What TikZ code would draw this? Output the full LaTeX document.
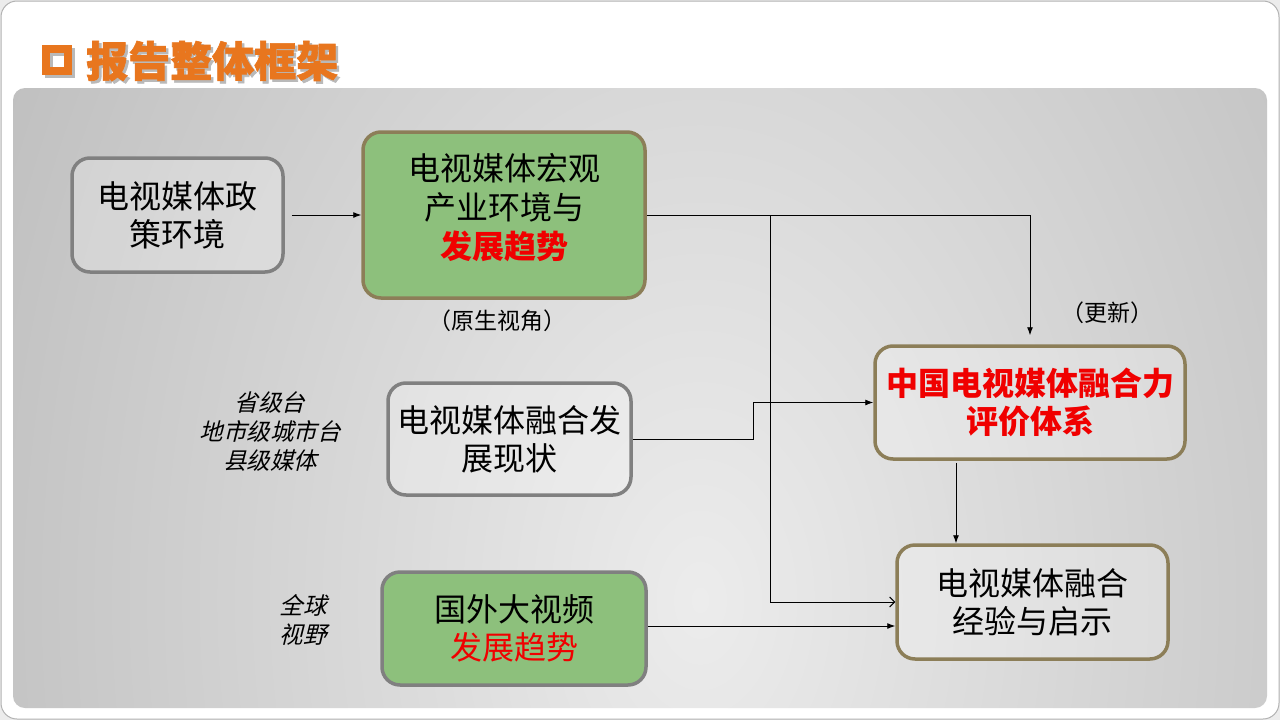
\documentclass[tikz,border=0pt]{standalone}
\usepackage{fontspec}
\setmainfont{Noto Sans CJK SC}
\newfontfamily\cjk{Noto Sans CJK SC}
\newfontfamily\cjkheavy[BoldFeatures={FakeBold=1.5}]{Noto Sans CJK SC}
\newfontfamily\cjkit[FakeSlant=0.25]{Noto Sans CJK SC}
\usetikzlibrary{arrows.meta,calc}
\definecolor{ttlorange}{RGB}{232,118,30}
\definecolor{boxgreen}{RGB}{141,192,124}
\definecolor{khaki}{RGB}{140,126,88}
\definecolor{bordgray}{RGB}{128,128,128}
\definecolor{txtred}{RGB}{240,0,0}
\definecolor{bginner}{RGB}{236,236,236}
\definecolor{bgouter}{RGB}{162,162,162}
\tikzset{
  basebox/.style={rounded corners=18pt, line width=3.5pt, align=center, inner sep=0pt,
    font=\cjk\fontsize{32}{38}\selectfont},
  graybox/.style={basebox, draw=bordgray, fill=white, fill opacity=0.25, text opacity=1},
  greenbox/.style={basebox, draw=bordgray, fill=boxgreen},
  greenkbox/.style={basebox, draw=khaki, fill=boxgreen},
  khakibox/.style={basebox, draw=khaki, fill=white, fill opacity=0.25, text opacity=1},
  boxtext/.style={align=center, inner sep=0pt, font=\cjk\fontsize{32}{39}\selectfont},
  arr/.style={line width=0.9pt, -{Latex[length=8pt,width=6pt]}},
  openarr/.style={line width=0.9pt, -{Straight Barb[length=5pt,width=10pt,line width=0.9pt]}},
  small/.style={font=\cjk\fontsize{23}{28}\selectfont, inner sep=0pt, align=center},
  slant/.style={font=\cjkit\fontsize{23.5}{29}\selectfont, inner sep=0pt, align=center},
}
\begin{document}
\begin{tikzpicture}[x=1pt,y=-1pt]
\useasboundingbox (0,0) rectangle (1280,720);
\fill[gray!15] (0,0) rectangle (1280,720);
\draw[fill=white, draw=gray!60, line width=1pt, rounded corners=16pt] (1,1) rectangle (1279,719);
\begin{scope}
\clip[rounded corners=12pt] (13,88) rectangle (1267,708);
\shade[inner color=bginner, outer color=bgouter] (-600,-1300) rectangle (2000,2500);
\end{scope}
% title
\draw[gray!55, line width=8pt] (48.5,51.5) rectangle (70.5,73.5);
\draw[ttlorange, line width=8pt] (46,49) rectangle (68,71);
\node[anchor=west, inner sep=0pt, text=gray!55, font=\cjkheavy\bfseries\fontsize{42}{42}\selectfont] (ttlsh) at (88.5,63.5) {报告整体框架};
\node[anchor=west, inner sep=0pt, text=ttlorange, font=\cjkheavy\bfseries\fontsize{42}{42}\selectfont] (ttl) at (86,61) {报告整体框架};
% boxes
\node[graybox, minimum width=211pt, minimum height=114pt] (b1) at (177.5,215) {电视媒体政\\策环境};
\node[greenkbox, minimum width=282pt, minimum height=166pt] (b2) at (504,215) {};
\node[boxtext] (b2t) at ($(b2.center)+(0,-7)$) {电视媒体宏观\\产业环境与\\{\bfseries\color{txtred}发展趋势}};
\node[graybox, minimum width=243pt, minimum height=112pt] (b3) at (509.5,439) {电视媒体融合发\\展现状};
\node[greenbox, minimum width=264pt, minimum height=113pt] (b4) at (514,628.5) {国外大视频\\{\color{txtred}发展趋势}};
\node[khakibox, minimum width=310pt, minimum height=113pt, text=txtred, font=\cjk\bfseries\fontsize{32}{38}\selectfont] (b5) at (1030,402.5) {中国电视媒体融合力\\评价体系};
\node[khakibox, minimum width=271pt, minimum height=114pt] (b6) at (1032.5,602) {电视媒体融合\\经验与启示};
% labels
\node[small] (l1) at (497,321) {（原生视角）};
\node[small] (l2) at (1107,313) {（更新）};
\node[slant] (l3) at (270,432) {省级台\\地市级城市台\\县级媒体};
\node[slant] (l4) at (303,620) {全球\\视野};
% connectors
\draw[arr, shorten <=7pt] (b1.east) -- (b2.west);
\draw[arr, shorten >=9pt] (b2.east) -| (b5.north);
\coordinate (j1) at (770,215);
\draw[openarr] (j1) |- (b6.west);
\draw[arr] (b3.east) -- ++(121,0) |- (b5.west);
\draw[arr, shorten <=2pt] ([xshift=-74pt]b5.south) -- ([xshift=-76.5pt]b6.north);
\draw[arr] ([yshift=2.5pt]b4.east) -- ([yshift=2.5pt]b4.east -| b6.west);
\end{tikzpicture}
\end{document}
